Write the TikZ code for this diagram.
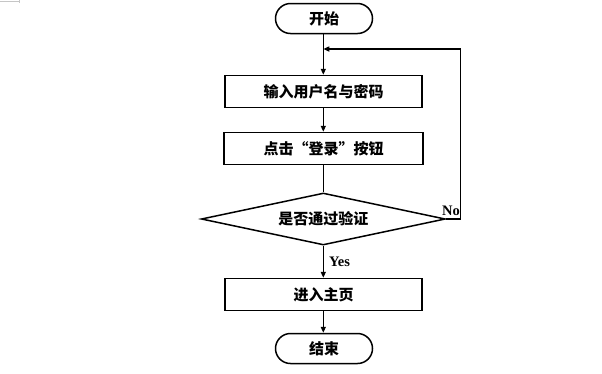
\documentclass[tikz,border=0pt]{standalone}
\usepackage{fontspec}
\newfontfamily\cjk{Noto Sans CJK SC}
\newfontfamily\lat{Liberation Serif}
\usetikzlibrary{shapes.geometric,arrows.meta}
\begin{document}
\begin{tikzpicture}[x=1pt,y=-1pt,
  every node/.style={font=\cjk\bfseries\fontsize{15pt}{18pt}\selectfont},
  term/.style={draw,line width=1.5pt,rounded corners=15pt,minimum width=97pt,minimum height=30pt,inner sep=0pt},
  procbox/.style={draw,line width=1.5pt,minimum width=197pt,minimum height=32pt,inner sep=0pt},
  decision/.style={draw,diamond,line width=1.5pt,aspect=4.7,minimum width=244pt,minimum height=52pt,inner sep=0pt},
  flow/.style={line width=1.5pt,-{Triangle[length=6pt,width=5pt]}},
  lab/.style={font=\lat\bfseries\fontsize{14.5pt}{16pt}\selectfont,inner sep=0pt}]
\useasboundingbox (0,0) rectangle (602,373);
\draw[gray!45,line width=0.6pt] (0,1) -- (19,1) (19,0) -- (19,2.5);
\node[term] (start) at (324,18.5) {开始};
\node[procbox] (b1) at (323.5,91.5) {输入用户名与密码};
\node[procbox,minimum width=199pt] (b2) at (323.5,148.5) {点击“登录”按钮};
\node[decision] (dia) at (323.3,219) {是否通过验证};
\node[procbox] (b3) at (323.5,294.5) {进入主页};
\node[term] (end) at (324,348.5) {结束};
\coordinate (j) at (323.3,49);
\coordinate (r) at (460.7,219);
\draw[line width=1.5pt] (start.south -| j) -- (j);
\draw[flow] (j) -- (b1.north -| j);
\draw[flow] (b1.south -| j) -- (b2.north -| j);
\draw[line width=1.5pt] (b2.south -| j) -- (dia.north);
\draw[flow] (dia.south) -- (b3.north -| dia.south);
\draw[flow] (b3.south -| dia.south) -- (end.north -| dia.south);
\draw[flow] (dia.east) -- (r) |- (j);
\node[lab] (no) at (451,211) {No};
\node[lab] (yes) at (339.5,262) {Yes};
\end{tikzpicture}
\end{document}
